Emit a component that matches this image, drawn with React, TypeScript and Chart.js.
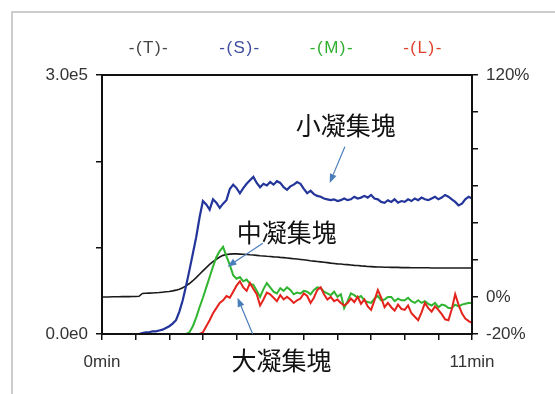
import { useEffect, useRef } from 'react';
import { Chart, registerables } from 'chart.js';

Chart.register(...registerables);

// Time grid in minutes (0.0 … 11.0, every 0.1 min)
const minutes: number[] = Array.from({ length: 111 }, (_, i) => i / 10);

// Left axis series, in units of 1e4 counts
const seriesS: number[] = [
  0, 0, 0, 0, 0, 0, 0, 0, 0, 0,
  0, 0, 0.1, 0.2, 0.2, 0.3, 0.3, 0.4, 0.5, 0.7,
  0.9, 1.2, 1.6, 2.6, 3.9, 5.6, 7.4, 9.3, 11.2, 13.5,
  15.4, 15.0, 14.4, 15.6, 15.2, 14.6, 15.1, 15.5, 16.8, 17.3,
  16.9, 16.3, 16.9, 17.4, 17.8, 18.2, 17.5, 17.0, 17.4, 17.2,
  17.6, 17.3, 17.7, 17.5, 17.0, 16.7, 17.1, 17.3, 17.6, 17.4,
  16.8, 16.3, 16.6, 16.2, 16.0, 15.9, 15.7, 15.6, 15.5, 15.6,
  15.4, 15.5, 15.7, 15.5, 15.6, 15.9, 15.7, 15.8, 16.0, 15.8,
  16.1, 15.7, 15.6, 15.3, 15.2, 15.5, 15.3, 15.6, 15.2, 15.4,
  15.3, 15.6, 15.4, 15.7, 15.5, 15.8, 15.6, 15.5, 15.7, 15.9,
  15.6, 15.8, 16.1, 15.9, 15.6, 15.3, 14.9, 15.1, 15.6, 15.9,
  15.7,
];

const seriesM: number[] = [
  0, 0, 0, 0, 0, 0, 0, 0, 0, 0,
  0, 0, 0, 0, 0, 0, 0, 0, 0, 0,
  0, 0, 0, 0, 0, 0, 0.2, 0.9, 1.9, 3.1,
  4.2, 5.4, 6.6, 7.8, 8.9, 9.6, 10.1, 9.0, 8.0, 6.8,
  6.4, 6.6, 6.1, 6.3, 5.8, 5.7, 5.0, 4.3, 5.2, 5.9,
  5.4, 4.9, 4.7, 5.3, 5.0, 5.4, 5.1, 4.6, 4.8, 4.7,
  5.0, 4.9, 4.6, 5.1, 5.4, 5.3, 4.9, 4.7, 4.5, 4.9,
  4.3, 4.6, 3.0, 3.8, 4.7, 4.5, 4.2, 4.4, 3.9, 3.7,
  3.6, 4.1, 4.4, 3.9, 4.0, 4.3, 4.3, 3.8, 4.1, 3.9,
  3.9, 4.2, 3.8, 3.6, 3.9, 3.6, 3.8, 3.5, 3.3, 3.6,
  3.1, 3.4, 3.3, 3.0, 3.0, 3.4, 3.2, 3.4, 3.5, 3.6,
  3.6,
];

const seriesL: number[] = [
  0, 0, 0, 0, 0, 0, 0, 0, 0, 0,
  0, 0, 0, 0, 0, 0, 0, 0, 0, 0,
  0, 0, 0, 0, 0, 0, 0, 0, 0, 0,
  0.2, 0.9, 1.6, 2.4, 3.0, 3.6, 3.9, 4.4, 4.2, 4.9,
  5.6, 6.1, 5.4, 5.0, 5.9, 5.2, 4.6, 3.3, 4.0, 4.8,
  4.6, 4.2, 3.8, 4.5, 4.0, 4.3, 4.0, 3.6, 3.9, 4.1,
  4.7, 4.4, 3.6, 4.2, 5.1, 5.4, 4.6, 4.0, 4.3, 3.8,
  4.0, 3.6, 3.3, 3.6, 4.1, 3.7, 4.3, 3.5, 4.0, 3.2,
  2.8, 3.9, 5.1, 4.2, 3.1, 3.6, 3.1, 2.7, 3.4, 2.9,
  2.8, 3.3, 2.4, 2.0, 1.6, 2.5, 3.6, 3.0, 2.6, 3.2,
  2.8, 2.3, 1.7, 1.6, 2.9, 4.6, 3.4, 2.4, 1.8, 1.5,
  1.3,
];

// Right axis series, percent
const seriesT: number[] = [
  0.0, 0.0, 0.0, 0.1, 0.1, 0.1, 0.2, 0.2, 0.2, 0.3,
  0.3, 0.4, 1.9, 2.0, 2.1, 2.2, 2.3, 2.4, 2.6, 2.8,
  3.0, 3.3, 3.7, 4.2, 5.0, 6.0, 7.3, 8.8, 10.5, 12.3,
  14.1, 15.9, 17.6, 19.1, 20.4, 21.6, 22.5, 23.0, 23.2, 23.3,
  23.3, 23.2, 23.1, 23.0, 22.8, 22.7, 22.5, 22.3, 22.2, 22.0,
  21.9, 21.7, 21.6, 21.4, 21.3, 21.1, 20.9, 20.7, 20.5, 20.3,
  20.1, 19.9, 19.6, 19.4, 19.2, 19.0, 18.8, 18.6, 18.3, 18.1,
  17.9, 17.8, 17.6, 17.5, 17.3, 17.1, 17.0, 16.8, 16.7, 16.5,
  16.4, 16.3, 16.2, 16.2, 16.1, 16.1, 16.0, 16.0, 16.0, 15.9,
  15.9, 15.9, 15.8, 15.8, 15.8, 15.8, 15.8, 15.8, 15.7, 15.7,
  15.7, 15.7, 15.7, 15.7, 15.7, 15.7, 15.7, 15.7, 15.7, 15.7,
  15.7,
];

const legendLabels = ['-(T)-', '-(S)-', '-(M)-', '-(L)-'];
const legendColors = ['#444444', '#3e4c9e', '#2fae2f', '#e0402c'];
const legendCenters = [149, 240, 332, 423];

// Annotations: label, label position (min, 1e4), arrow start, arrow end
const annotationLabels = ['小凝集塊', '中凝集塊', '大凝集塊'];
const annotationPos: [number, number][] = [[7.25, 24.2], [5.49, 11.8], [5.34, -3.1]];
const arrowFrom: [number, number][] = [[7.22, 21.7], [4.78, 10.5], [4.48, 0]];
const arrowTo: [number, number][] = [[6.77, 17.5], [3.73, 7.8], [4.03, 4.2]];

const xLabels: Record<number, string> = { 0: '0min', 11: '11min' };
const leftLabels: Record<number, string> = { 0: '0.0e0', 30: '3.0e5' };
const rightLabels: Record<number, string> = { [-20]: '-20%', 0: '0%', 120: '120%' };

const tickFont = { family: '"Liberation Sans", Arial, sans-serif', size: 17 };

const decorPlugin = {
  id: 'decor',
  beforeDraw(chart: any) {
    const { ctx, width, height } = chart;
    ctx.save();
    ctx.fillStyle = '#ffffff';
    ctx.fillRect(0, 0, width, height);
    ctx.strokeStyle = '#bdbdbd';
    ctx.lineWidth = 1.5;
    ctx.beginPath();
    ctx.moveTo(12, height);
    ctx.lineTo(12, 12);
    ctx.lineTo(width, 12);
    ctx.stroke();
    ctx.restore();
  },
  afterDraw(chart: any) {
    const { ctx, chartArea } = chart;
    const xs = chart.scales.x;
    const ys = chart.scales.y;
    ctx.save();
    // plot frame
    ctx.strokeStyle = '#111';
    ctx.lineWidth = 2;
    ctx.strokeRect(chartArea.left, chartArea.top, chartArea.right - chartArea.left, chartArea.bottom - chartArea.top);

    // legend
    ctx.font = '17px "Liberation Sans", Arial, sans-serif';
    ctx.textAlign = 'center';
    ctx.textBaseline = 'middle';
    try { (ctx as any).letterSpacing = '1.5px'; } catch (e) {}
    legendLabels.forEach((t, i) => {
      ctx.fillStyle = legendColors[i];
      ctx.fillText(t, legendCenters[i], 48);
    });
    try { (ctx as any).letterSpacing = '0px'; } catch (e) {}

    // annotations
    ctx.font = '25px "Noto Sans CJK JP", "Noto Sans CJK SC", sans-serif';
    ctx.fillStyle = '#111';
    annotationLabels.forEach((t, i) => {
      const px = xs.getPixelForValue(annotationPos[i][0]);
      const py = ys.getPixelForValue(annotationPos[i][1]);
      ctx.fillText(t, px, py);
    });
    ctx.strokeStyle = '#4a7ebb';
    ctx.fillStyle = '#4a7ebb';
    ctx.lineWidth = 1.2;
    arrowFrom.forEach((f, i) => {
      const x1 = xs.getPixelForValue(f[0]);
      const y1 = ys.getPixelForValue(f[1]);
      const x2 = xs.getPixelForValue(arrowTo[i][0]);
      const y2 = ys.getPixelForValue(arrowTo[i][1]);
      const a = Math.atan2(y2 - y1, x2 - x1);
      const L = 9;
      const W = 3.5;
      const bx = x2 - L * Math.cos(a);
      const by = y2 - L * Math.sin(a);
      ctx.beginPath();
      ctx.moveTo(x1, y1);
      ctx.lineTo(bx, by);
      ctx.stroke();
      ctx.beginPath();
      ctx.moveTo(x2, y2);
      ctx.lineTo(bx + W * Math.sin(a), by - W * Math.cos(a));
      ctx.lineTo(bx - W * Math.sin(a), by + W * Math.cos(a));
      ctx.closePath();
      ctx.fill();
    });
    ctx.restore();
  },
};

export default function App() {
  const ref = useRef<HTMLCanvasElement | null>(null);

  useEffect(() => {
    if (!ref.current) return;
    const pts = (arr: number[]) => minutes.map((m, i) => ({ x: m, y: arr[i] }));
    const chart = new Chart(ref.current, {
      type: 'line',
      data: {
        datasets: [
          { label: 'L', data: pts(seriesL), borderColor: '#e3231c', borderWidth: 2, yAxisID: 'y', order: 0 },
          { label: 'M', data: pts(seriesM), borderColor: '#2fb52f', borderWidth: 2, yAxisID: 'y', order: 1 },
          { label: 'S', data: pts(seriesS), borderColor: '#23359a', borderWidth: 2.2, yAxisID: 'y', order: 2 },
          { label: 'T', data: pts(seriesT), borderColor: '#1a1a1a', borderWidth: 1.6, yAxisID: 'y1', order: 3 },
        ],
      },
      options: {
        animation: false,
        responsive: false,
        devicePixelRatio: 1,
        layout: { padding: { top: 75, left: 0, right: 0, bottom: 0 } },
        elements: { point: { radius: 0 }, line: { tension: 0 } },
        plugins: { legend: { display: false }, tooltip: { enabled: false } },
        scales: {
          x: {
            type: 'linear',
            min: 0,
            max: 11,
            ticks: {
              stepSize: 1,
              autoSkip: false,
              maxRotation: 0,
              color: '#333',
              font: tickFont,
              padding: 12,
              callback: (v: any) => xLabels[v as number] ?? '',
            },
            grid: { drawOnChartArea: false, tickLength: 6, color: '#111', lineWidth: 1.5 },
            border: { color: '#111', width: 2 },
            afterFit: (s: any) => { s.height = 60; },
          },
          y: {
            type: 'linear',
            position: 'left',
            min: 0,
            max: 30,
            ticks: {
              stepSize: 10,
              color: '#333',
              font: tickFont,
              padding: 8,
              callback: (v: any) => leftLabels[v as number] ?? '',
            },
            grid: { drawOnChartArea: false, tickLength: 6, color: '#111', lineWidth: 1.5 },
            border: { color: '#111', width: 2 },
            afterFit: (s: any) => { s.width = 102; },
          },
          y1: {
            type: 'linear',
            position: 'right',
            min: -20,
            max: 120,
            ticks: {
              stepSize: 10,
              color: '#333',
              font: tickFont,
              padding: 8,
              callback: (v: any) => rightLabels[v as number] ?? '',
            },
            grid: { drawOnChartArea: false, tickLength: 6, color: '#111', lineWidth: 1.5 },
            border: { color: '#111', width: 2 },
            afterFit: (s: any) => { s.width = 83; },
          },
        },
      },
      plugins: [decorPlugin],
    } as any);
    return () => chart.destroy();
  }, []);

  return (
    <div style={{ position: 'fixed', left: 0, top: 0, width: 555, height: 394, background: '#fff' }}>
      <canvas ref={ref} width={555} height={394} style={{ width: 555, height: 394, display: 'block' }} />
    </div>
  );
}
